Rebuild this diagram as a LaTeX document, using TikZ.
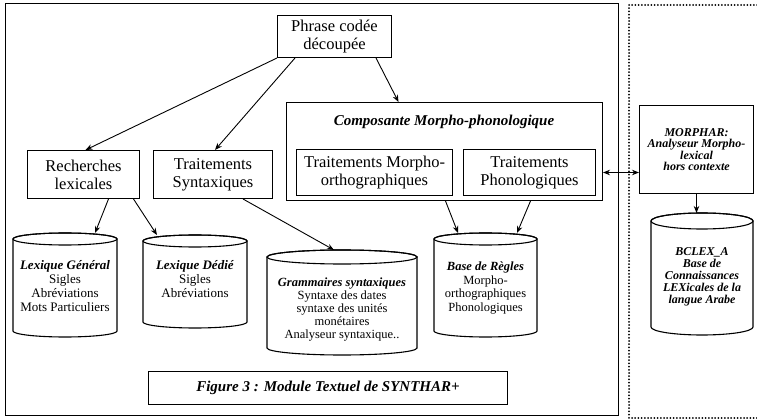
\documentclass[tikz,border=0pt]{standalone}
\usepackage{fontspec}
\setmainfont{Liberation Serif}
\usetikzlibrary{arrows.meta,calc}
% #1 name, #2 centre x, #3 half width, #4 top y, #5 bottom y, #6 ellipse half height
\newcommand\dbcyl[6]{%
  \draw[cylline] ({#2-#3},{#4+#6}) -- ({#2-#3},{#5-#6})
     arc[start angle=180,end angle=360,x radius=#3pt,y radius=#6pt]
     -- ({#2+#3},{#4+#6})
     arc[start angle=0,end angle=180,x radius=#3pt,y radius=#6pt];
  \draw[cylline] (#2,{#4+#6}) ellipse[x radius=#3pt,y radius=#6pt];
  \node[inner sep=0,outer sep=0,minimum width={2*#3},minimum height={#5-#4}] (#1) at (#2,{(#4+#5)/2}) {};
}
\begin{document}
\begin{tikzpicture}[x=1pt,y=-1pt,
  box/.style={draw,line width=1pt,align=center,inner sep=0,anchor=north west,font=\fontsize{16.5}{18}\selectfont},
  arr/.style={-{Stealth[length=7pt,width=5.5pt]},line width=0.9pt},
  cylline/.style={line width=1.1pt},
  ctext/.style={align=center,inner sep=0,font=\fontsize{13}{14}\selectfont},
  btext/.style={align=center,inner sep=0,font=\bfseries\itshape\fontsize{12}{12}\selectfont}]
\path[use as bounding box] (0,0) rectangle (757,419);

% outer frame and dotted frame
\node[draw,line width=1.3pt,inner sep=0,anchor=north west,minimum width=613,minimum height=412] (frame) at (5,3) {};
\draw[line width=2pt,line cap=round,dash pattern=on 0pt off 3.2pt] (757,5) -- (629,5) -- (629,418) -- (757,418);

% boxes
\node[box,minimum width=114,minimum height=42] (phrase) at (277,15) {Phrase codée\\découpée};
\node[box,minimum width=112,minimum height=48] (rl) at (27,150) {Recherches\\lexicales};
\node[box,minimum width=119,minimum height=48] (ts) at (153,150) {Traitements\\Syntaxiques};
\node[box,minimum width=316,minimum height=98] (comp) at (286,102) {};
\node[font=\bfseries\itshape\fontsize{15}{17}\selectfont,inner sep=0] (comptitle) at (444,122) {Composante Morpho-phonologique};
\node[box,minimum width=156,minimum height=46] (tmo) at (296,149) {Traitements Morpho-\\orthographiques};
\node[box,minimum width=132,minimum height=46] (tp) at (463,149) {Traitements\\Phonologiques};
\node[box,minimum width=114,minimum height=88,font=\bfseries\itshape\fontsize{12}{11.5}\selectfont] (morph) at (639,105) {MORPHAR:\\Analyseur Morpho-\\lexical\\hors contexte};
\node[box,minimum width=359,minimum height=33,font=\bfseries\itshape\fontsize{15}{17}\selectfont] (caption) at (148,371) {Figure 3 : Module Textuel de SYNTHAR+};

% data bases
\dbcyl{lg}{65}{52}{233}{337}{6}
\dbcyl{ld}{195}{52}{235}{328}{6}
\dbcyl{gram}{342}{75}{250}{355}{7}
\dbcyl{base}{485.5}{51.5}{233}{337}{6}
\dbcyl{bclex}{702}{51}{213}{335}{8}

\node[ctext] (lgt) at (65,286) {\textbf{\textit{Lexique Général}}\\Sigles\\Abréviations\\Mots Particuliers};
\node[ctext] (ldt) at (195,279) {\textbf{\textit{Lexique Dédié}}\\Sigles\\Abréviations};
\node[ctext,font=\fontsize{12.5}{13}\selectfont] (gramt) at (342,310) {\textbf{\textit{Grammaires syntaxiques}}\\Syntaxe des dates\\syntaxe des unités\\monétaires\\Analyseur syntaxique..};
\node[ctext,font=\fontsize{12.5}{13.5}\selectfont] (baset) at (485.5,288) {\textbf{\textit{Base de Règles}}\\Morpho-\\orthographiques\\Phonologiques};
\node[btext] (bclext) at (702,277) {BCLEX\_A\\Base de\\Connaissances\\LEXicales de la\\langue Arabe};

% connectors
\draw[arr] (phrase.south west) -- ([xshift=2]rl.north);
\draw[arr] ([xshift=18]phrase.south west) -- ([xshift=2]ts.north);
\draw[arr] ([xshift=-16]phrase.south east) -- ([xshift=-46]comp.north);
\draw[arr] ([xshift=25]rl.south) -- ([xshift=30]lg.north);
\draw[arr] ([xshift=50]rl.south) -- ([xshift=-38]ld.north);
\draw[arr] ([xshift=30]ts.south) -- ([xshift=-8]gram.north);
\draw[arr] ([xshift=1]comp.south) -- ([xshift=-27.5]base.north);
\draw[arr] ([xshift=86]comp.south) -- ([xshift=31.5]base.north);
\draw[arr,{Stealth[length=7pt,width=5.5pt]}-{Stealth[length=7pt,width=5.5pt]}] (comp.east |- tp.east) -- (morph.west |- tp.east);
\draw[arr] (morph.south) -- (morph.south |- bclex.north);
\end{tikzpicture}
\end{document}
